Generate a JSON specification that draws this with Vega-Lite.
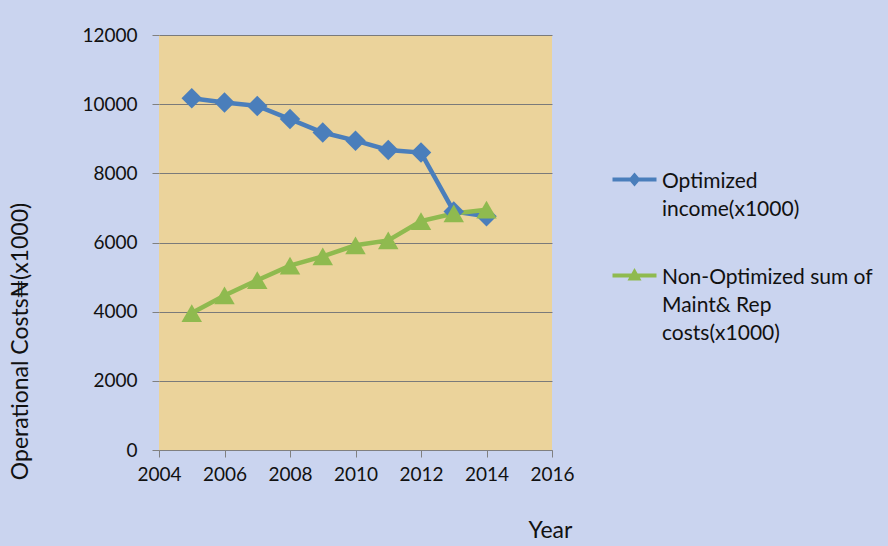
{
  "$schema": "https://vega.github.io/schema/vega-lite/v6.json",
  "width": 393,
  "height": 415,
  "autosize": {"type": "none"},
  "padding": {"left": 159, "top": 35, "right": 336, "bottom": 96},
  "background": "#cad4ef",
  "config": {
    "view": {"fill": "#ebd39b", "stroke": null},
    "font": "Lato",
    "axis": {
      "labelFont": "Lato",
      "labelFontSize": 19,
      "labelColor": "#111111",
      "titleFont": "Lato",
      "titleFontSize": 23,
      "titleFontWeight": "normal",
      "titleColor": "#111111",
      "tickColor": "#808080",
      "domainColor": "#808080",
      "gridColor": "#7a7a7a",
      "gridOpacity": 1,
      "tickSize": 7,
      "labelOverlap": false,
      "labelFlush": false
    }
  },
  "data": {
    "values": [
      {"year": 2005, "series": "Optimized income(x1000)", "value": 10170},
      {"year": 2006, "series": "Optimized income(x1000)", "value": 10050},
      {"year": 2007, "series": "Optimized income(x1000)", "value": 9950},
      {"year": 2008, "series": "Optimized income(x1000)", "value": 9570},
      {"year": 2009, "series": "Optimized income(x1000)", "value": 9180},
      {"year": 2010, "series": "Optimized income(x1000)", "value": 8945},
      {"year": 2011, "series": "Optimized income(x1000)", "value": 8675},
      {"year": 2012, "series": "Optimized income(x1000)", "value": 8600},
      {"year": 2013, "series": "Optimized income(x1000)", "value": 6900},
      {"year": 2014, "series": "Optimized income(x1000)", "value": 6760},
      {"year": 2005, "series": "Non-Optimized sum of Maint& Rep costs(x1000)", "value": 3960},
      {"year": 2006, "series": "Non-Optimized sum of Maint& Rep costs(x1000)", "value": 4470},
      {"year": 2007, "series": "Non-Optimized sum of Maint& Rep costs(x1000)", "value": 4910},
      {"year": 2008, "series": "Non-Optimized sum of Maint& Rep costs(x1000)", "value": 5330},
      {"year": 2009, "series": "Non-Optimized sum of Maint& Rep costs(x1000)", "value": 5600},
      {"year": 2010, "series": "Non-Optimized sum of Maint& Rep costs(x1000)", "value": 5920},
      {"year": 2011, "series": "Non-Optimized sum of Maint& Rep costs(x1000)", "value": 6060},
      {"year": 2012, "series": "Non-Optimized sum of Maint& Rep costs(x1000)", "value": 6620},
      {"year": 2013, "series": "Non-Optimized sum of Maint& Rep costs(x1000)", "value": 6840},
      {"year": 2014, "series": "Non-Optimized sum of Maint& Rep costs(x1000)", "value": 6950}
    ]
  },
  "encoding": {
    "x": {
      "field": "year",
      "type": "quantitative",
      "scale": {"domain": [2004, 2016], "nice": false, "zero": false},
      "axis": {
        "values": [2004, 2006, 2008, 2010, 2012, 2014, 2016],
        "format": "d",
        "grid": false,
        "labelPadding": 8,
        "title": "Year",
        "titleX": 391,
        "titleY": 80,
        "titleBaseline": "middle",
        "titleAngle": 0
      }
    },
    "y": {
      "field": "value",
      "type": "quantitative",
      "scale": {"domain": [0, 12000], "nice": false},
      "axis": {
        "values": [0, 2000, 4000, 6000, 8000, 10000, 12000],
        "format": "d",
        "grid": true,
        "domain": false,
        "labelPadding": 15,
        "title": "Operational Costs₦(x1000)",
        "titleX": -139,
        "titleY": 306,
        "titleAngle": -90,
        "titleBaseline": "middle",
        "titleAlign": "center"
      }
    }
  },
  "layer": [
    {
      "mark": {"type": "line", "strokeWidth": 4.5},
      "encoding": {
        "color": {
          "field": "series",
          "type": "nominal",
          "scale": {
            "domain": ["Optimized income(x1000)", "Non-Optimized sum of Maint& Rep costs(x1000)"],
            "range": ["#4a7ebb", "#8fba4f"]
          },
          "legend": {
            "orient": "none",
            "legendX": 465,
            "legendY": 134,
            "title": null,
            "padding": 0,
            "symbolSize": 100,
            "labelFont": "Lato",
            "labelFontSize": 21,
            "labelColor": "#111111",
            "labelOffset": 17,
            "labelLimit": 400,
            "rowPadding": 45,
            "labelBaseline": "alphabetic",
            "labelExpr": "datum.value == 'Optimized income(x1000)' ? ['Optimized', 'income(x1000)'] : ['Non-Optimized sum of', 'Maint& Rep', 'costs(x1000)']",
            "encode": {
              "labels": {"update": {"lineHeight": {"value": 28}, "dy": {"value": 8}}},
              "symbols": {
                "update": {
                  "shape": {"signal": "datum.value == 'Optimized income(x1000)' ? 'M-4.4,-0.4H4.4V0.4H-4.4Z M0,-1.4L1.2,0L0,1.4L-1.2,0Z' : 'M-4.4,-0.4H4.4V0.4H-4.4Z M0,-1.5L1.4,1.0L-1.4,1.0Z'"},
                  "fill": {"signal": "datum.value == 'Optimized income(x1000)' ? '#4a7ebb' : '#8fba4f'"},
                  "stroke": {"value": "transparent"},
                  "strokeWidth": {"value": 0},
                  "opacity": {"value": 1}
                }
              }
            }
          }
        }
      }
    },
    {
      "transform": [{"filter": "datum.series == 'Optimized income(x1000)'"}],
      "mark": {"type": "point", "shape": "diamond", "filled": true, "opacity": 1, "size": 420, "color": "#4a7ebb"}
    },
    {
      "transform": [{"filter": "datum.series != 'Optimized income(x1000)'"}],
      "mark": {"type": "point", "shape": "triangle-up", "filled": true, "opacity": 1, "size": 420, "color": "#8fba4f"}
    }
  ]
}
